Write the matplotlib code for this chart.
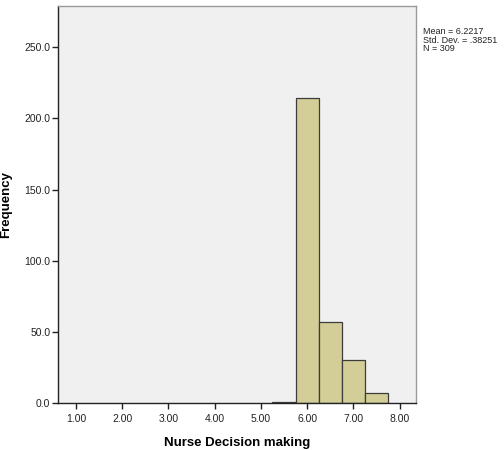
import matplotlib
matplotlib.use("Agg")
import matplotlib.pyplot as plt

plt.rcParams['font.family'] = ['Liberation Sans', 'DejaVu Sans']

# histogram bins (width 0.5) and counts
bin_left = [5.25, 5.75, 6.25, 6.75, 7.25]
counts = [1, 214, 57, 30, 7]
bin_width = 0.5

x_ticks = [1, 2, 3, 4, 5, 6, 7, 8]
y_ticks = [0, 50, 100, 150, 200, 250]

mean, sd, n = "6.2217", ".38251", 309

fig = plt.figure(figsize=(5.04, 4.5), dpi=100)
ax = fig.add_axes([0.115, 0.104, 0.71, 0.883])
ax.set_facecolor('#F0F0F0')

ax.bar(bin_left, counts, width=bin_width, align='edge',
       color='#D3CE97', edgecolor='#3C3C3C', linewidth=0.9)

ax.set_xlim(0.61, 8.35)
ax.set_ylim(0, 279)
ax.set_xticks(x_ticks)
ax.set_xticklabels([f"{v:.2f}" for v in x_ticks])
ax.set_yticks(y_ticks)
ax.set_yticklabels([f"{v:.1f}" for v in y_ticks])
ax.tick_params(axis='both', labelsize=7.5, color='#222222', length=4,
               width=1, direction='out', labelcolor='#222222', pad=1.5)
ax.tick_params(axis='x', pad=4)

for side in ('left', 'bottom'):
    ax.spines[side].set_color('#222222')
    ax.spines[side].set_linewidth(1)
for side in ('top', 'right'):
    ax.spines[side].set_color('#9A9A9A')
    ax.spines[side].set_linewidth(1)

ax.set_xlabel('Nurse Decision making', fontsize=9.5, fontweight='bold')
ax.set_ylabel('Frequency', fontsize=9.5, fontweight='bold')
ax.xaxis.set_label_coords(0.5, -0.086)
ax.yaxis.set_label_coords(-0.128, 0.5)

fig.text(0.839, 0.94, f"Mean = {mean}\nStd. Dev. = {sd}\nN = {n}",
         fontsize=6.5, va='top', ha='left', linespacing=0.95, color='#222222')

fig.savefig('out.png', dpi=100)
